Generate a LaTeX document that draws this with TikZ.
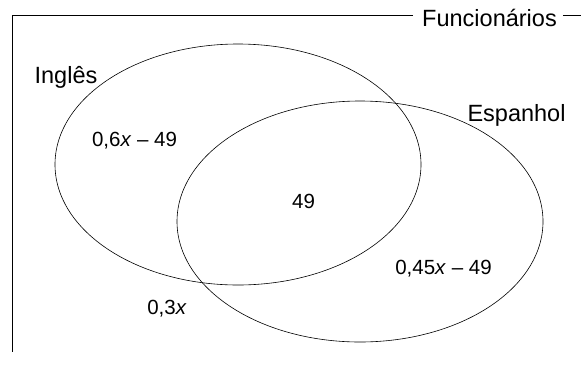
\documentclass[tikz,border=0pt]{standalone}
\usepackage{fontspec}
\setmainfont{Liberation Sans}
\usetikzlibrary{shapes.geometric,positioning}

\begin{document}
\begin{tikzpicture}[x=1pt,y=-1pt,
  set/.style={draw,ellipse,line width=0.6pt,inner sep=0pt,
              minimum width=366pt,minimum height=241pt},
  setname/.style={inner sep=0pt,anchor=base,font=\fontsize{23.5}{26}\selectfont},
  val/.style={inner sep=0pt,anchor=base,font=\fontsize{20.5}{23}\selectfont}]
  \useasboundingbox (0,0) rectangle (583,365);
  \coordinate (tl) at (12.5,15);
  \coordinate (bl) at (12.5,352);
  \coordinate (tr) at (581,15);
  \node[setname] (func) at (489.5,26) {Funcionários};
  \draw[line width=0.7pt] (func.west |- tl) ++(-9,0) coordinate (fl) -- (tl) -- (bl);
  \draw[line width=0.7pt] (func.east |- tr) ++(6,0) coordinate (fr) -- (tr);
  \node[set] (ing) at (238,164.5) {};
  \node[set] (esp) at (360,221.5) {};
  \node[setname] (lingles) at (66,83) {Inglês};
  \node[setname] (lesp) at (516.5,121) {Espanhol};
  \node[val] (a) at (134.5,146) {0,6\textit{x} – 49};
  \node[val] (b) at (303.5,208) {49};
  \node[val] (c) at (443.5,274) {0,45\textit{x} – 49};
  \node[val] (d) at (167,314) {0,3\textit{x}};
\end{tikzpicture}
\end{document}
